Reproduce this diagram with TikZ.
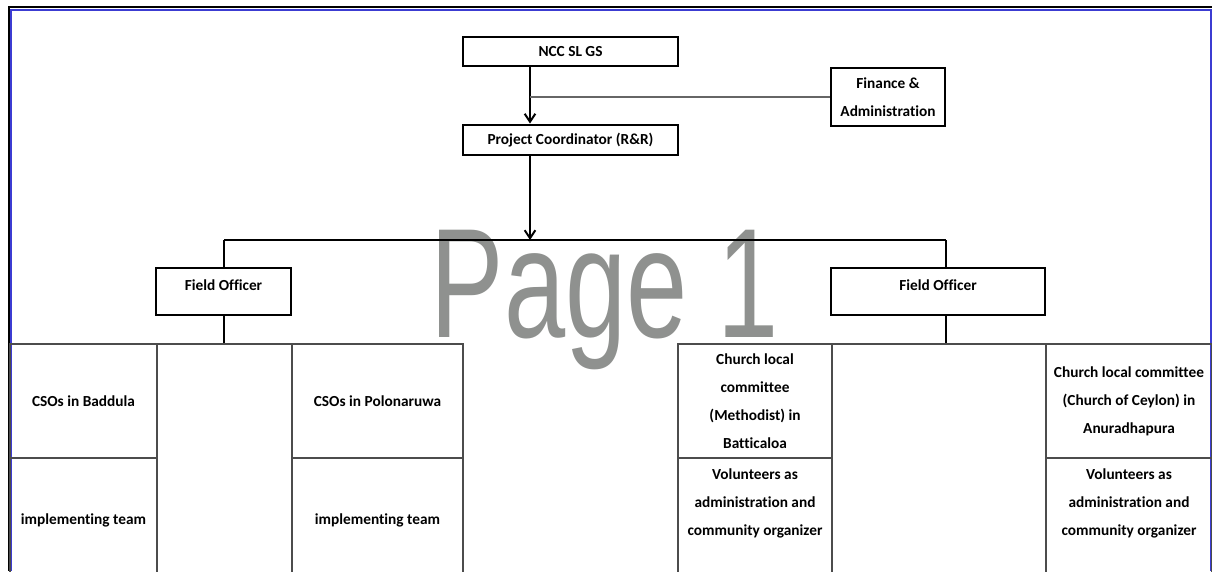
\documentclass[tikz,border=0pt]{standalone}
\usepackage{fontspec}
\usepackage{graphicx}
\setmainfont{Carlito}[Ligatures=NoCommon]
\setsansfont{Liberation Sans}
\usetikzlibrary{arrows.meta,positioning}

\newcommand\pxu{0.75pt}
\definecolor{frameblue}{HTML}{3C3CD2}
\definecolor{markgray}{HTML}{8F918F}

\begin{document}
\begin{tikzpicture}[x=0.75pt,y=-0.75pt]
    % `headbox' is used for the thick boxes at the top.
    % `cell' is used for the table cells at the bottom.
    \tikzstyle{headbox} = [draw,line width=2.2pt,inner sep=0pt,font=\bfseries\fontsize{11.5}{21}\selectfont]
    \tikzstyle{finbox} = [draw,line width=1pt,inner sep=0pt,align=center,font=\bfseries\fontsize{11.5}{21}\selectfont]
    \tikzstyle{cell} = [draw=black!70,line width=0.9pt,inner sep=0pt,align=center,font=\bfseries\fontsize{11.5}{21}\selectfont]
    \tikzstyle{conn} = [line width=1.5pt,-{Straight Barb[length=6pt,width=8pt]}]
    \tikzstyle{link} = [line width=0.9pt]
    %
    \useasboundingbox (0,0) rectangle (1212,571);
    \clip (0,0) rectangle (1212,571);
    % Watermark behind everything.
    \node[inner sep=0pt,anchor=base,text=markgray,font=\sffamily\fontsize{117}{117}\selectfont] (mark) at (605,337) {\scalebox{0.705}[1]{Page 1}};
    % Page frame.
    \draw[line width=1.5pt] (9,6.5) -- (1212,6.5);
    \draw[line width=2pt] (9,6) -- (9,571);
    \draw[frameblue,line width=1.5pt] (11,571) -- (11,9.5) -- (1211,9.5) -- (1211,571);
    %
    \node[headbox,minimum width=215*\pxu,minimum height=29*\pxu] (ncc) at (570.5,51.5) {NCC SL GS};
    \node[finbox,minimum width=114*\pxu,minimum height=58*\pxu] (fin) at (888,97) {Finance \&\\Administration};
    \node[headbox,minimum width=215*\pxu,minimum height=30*\pxu] (pc) at (570.5,140) {Project Coordinator (R\&R)};
    \node[headbox,minimum width=135*\pxu,minimum height=47*\pxu,text height=8pt,text depth=10pt] (fol) at (223.5,291.5) {Field Officer};
    \node[headbox,minimum width=214*\pxu,minimum height=47*\pxu,text height=8pt,text depth=10pt] (for) at (938,291.5) {Field Officer};
    %
    \node[cell,minimum width=147*\pxu,minimum height=114*\pxu] (cb1) at (83.5,401) {CSOs in Baddula};
    \node[cell,minimum width=147*\pxu,minimum height=124*\pxu] (cb2) at (83.5,520) {implementing team};
    \node[cell,minimum width=135*\pxu,minimum height=238*\pxu] (gapl) at (224.5,463) {};
    \node[cell,minimum width=171*\pxu,minimum height=114*\pxu] (cp1) at (377.5,401) {CSOs in Polonaruwa};
    \node[cell,minimum width=171*\pxu,minimum height=124*\pxu] (cp2) at (377.5,520) {implementing team};
    \node[cell,minimum width=154*\pxu,minimum height=114*\pxu] (cm1) at (755,401) {Church local\\committee\\(Methodist) in\\Batticaloa};
    \node[cell,minimum width=154*\pxu,minimum height=124*\pxu] (cm2) at (755,520) {Volunteers as\\administration and\\community organizer\\\strut};
    \node[cell,minimum width=214*\pxu,minimum height=238*\pxu] (gapr) at (939,463) {};
    \node[cell,minimum width=166*\pxu,minimum height=114*\pxu] (cc1) at (1129,401) {Church local committee\\(Church of Ceylon) in\\Anuradhapura};
    \node[cell,minimum width=166*\pxu,minimum height=124*\pxu] (cc2) at (1129,520) {Volunteers as\\administration and\\community organizer\\\strut};
    %
    \coordinate (jn) at (530,97);
    \coordinate (bus) at (530,240);
    \coordinate (busl) at (224,240);
    \coordinate (busr) at (946,240);
    \draw[conn] (jn |- ncc.south) -- (jn |- pc.north);
    \draw[link,black!60] (jn) -- (fin.west |- jn);
    \draw[conn] (bus |- pc.south) -- (bus);
    \draw[link] (busl) -- (busr);
    \draw[link] (busl) -- (busl |- fol.north);
    \draw[link] (busr) -- (busr |- for.north);
    \draw[link] (busl |- fol.south) -- (busl |- gapl.north);
    \draw[link] (busr |- for.south) -- (busr |- gapr.north);
\end{tikzpicture}
\end{document}
